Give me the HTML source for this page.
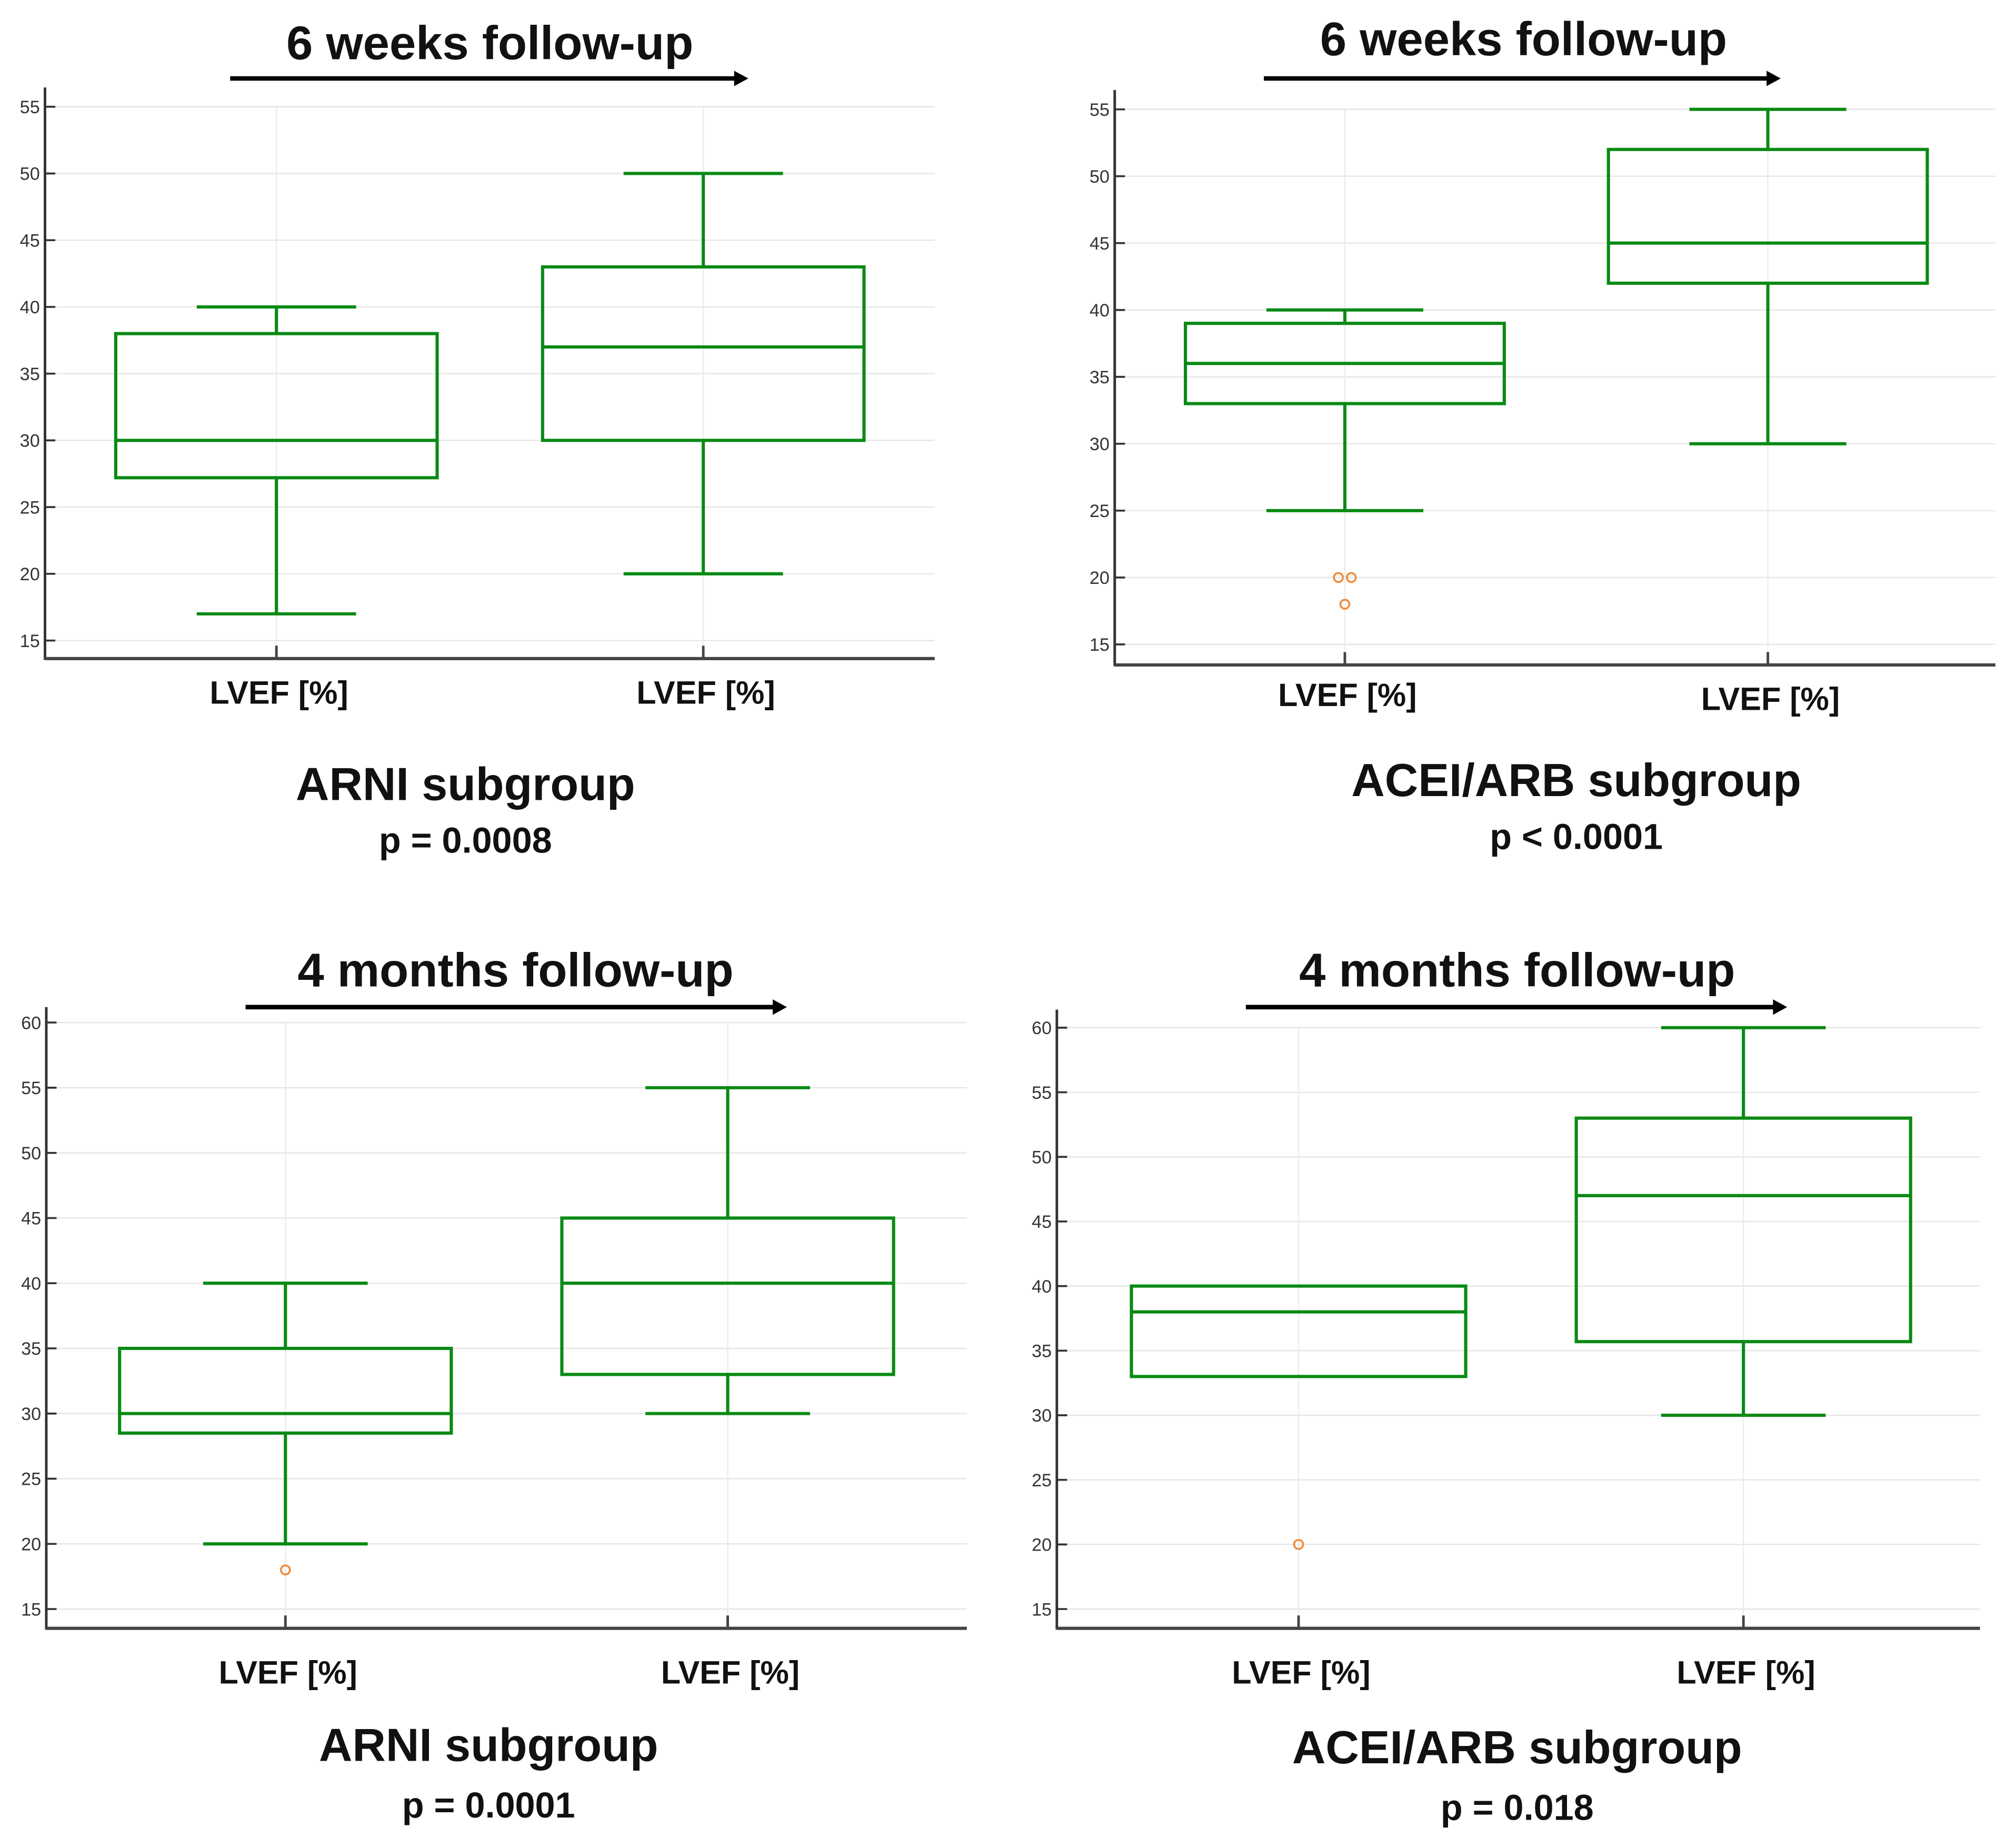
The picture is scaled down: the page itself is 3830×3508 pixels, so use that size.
<!DOCTYPE html>
<html><head><meta charset="utf-8"><style>
html,body{margin:0;padding:0;background:#fff;}
svg{display:block;}
text{font-family:"Liberation Sans",sans-serif;}
</style></head><body>
<svg id="fig" width="3830" height="3508" viewBox="0 0 1568 1436" preserveAspectRatio="none" xmlns="http://www.w3.org/2000/svg"></svg>
<script>
// Panel data: [whiskerLow, q1, median, q3, whiskerHigh]
const tlBoxes = [[17, 27.2, 30, 38, 40], [20, 30, 37, 43, 50]];
const trBoxes = [[25, 33, 36, 39, 40], [30, 42, 45, 52, 55]];
const blBoxes = [[20, 28.5, 30, 35, 40], [30, 33, 40, 45, 55]];
const brBoxes = [[33, 33, 38, 40, 40], [30, 35.7, 47, 53, 60]];
const tlOutliers = [];
const trOutliers = [[0, 20, -5], [0, 20, 5], [0, 18, 0]];
const blOutliers = [[0, 18, 0]];
const brOutliers = [[0, 20, 0]];
const ticks6w = [15, 20, 25, 30, 35, 40, 45, 50, 55];
const ticks4m = [15, 20, 25, 30, 35, 40, 45, 50, 55, 60];
const categories = ["LVEF [%]", "LVEF [%]"];

const NS = "http://www.w3.org/2000/svg";
const svg = document.getElementById('fig');
function mk(tag, attrs, parent) {
  const e = document.createElementNS(NS, tag);
  for (const k in attrs) e.setAttribute(k, attrs[k]);
  (parent || svg).appendChild(e);
  return e;
}
const GREEN = "#0a8a14";

function panel(cfg) {
  const g = mk('g', {});
  
  
  const y = v => cfg.yTop + (cfg.vTop - v) / (cfg.vTop - cfg.vBot) * (cfg.yBot - cfg.yTop);
  cfg.ticks.forEach(t => {
    const l = mk('line', {x1: cfg.x0 + 2, x2: cfg.x1, y1: y(t), y2: y(t), stroke: "#e6e6e6", "stroke-width": 1}, g);
    
    
    const tk = mk('line', {x1: cfg.x0, x2: cfg.x0 + 8, y1: y(t), y2: y(t), stroke: "#333", "stroke-width": 1.5}, g);
    
    
    const tx = mk('text', {x: cfg.x0 - 4, y: y(t) + 5, "font-size": 14, "text-anchor": "end", fill: "#333"}, g);
    tx.textContent = t;
    
    
  });
  cfg.cats.forEach(cx => {
    const l = mk('line', {x1: cx, x2: cx, y1: cfg.yTop, y2: cfg.axisY, stroke: "#ececec", "stroke-width": 1}, g);
    
    
    const tk = mk('line', {x1: cx, x2: cx, y1: cfg.axisY - 10, y2: cfg.axisY, stroke: "#444", "stroke-width": 2}, g);
    
    
  });
  const ya = mk('line', {x1: cfg.x0, x2: cfg.x0, y1: cfg.axisTop, y2: cfg.axisY + 1, stroke: "#333", "stroke-width": 2}, g);
  
  
  const xa = mk('line', {x1: cfg.x0, x2: cfg.x1, y1: cfg.axisY, y2: cfg.axisY, stroke: "#444", "stroke-width": 2.5}, g);
  
  
  cfg.boxes.forEach((b, i) => {
    const cx = cfg.cats[i], hw = cfg.boxHalf, cw = cfg.capHalf;
    const bg = mk('g', {stroke: GREEN, "stroke-width": 2.5, fill: "none"}, g);
    
    
    if (b[0] < b[1]) {
      mk('line', {x1: cx, x2: cx, y1: y(b[0]), y2: y(b[1])}, bg);
      mk('line', {x1: cx - cw, x2: cx + cw, y1: y(b[0]), y2: y(b[0])}, bg);
    }
    if (b[4] > b[3]) {
      mk('line', {x1: cx, x2: cx, y1: y(b[4]), y2: y(b[3])}, bg);
      mk('line', {x1: cx - cw, x2: cx + cw, y1: y(b[4]), y2: y(b[4])}, bg);
    }
    mk('rect', {x: cx - hw, y: y(b[3]), width: 2 * hw, height: y(b[1]) - y(b[3])}, bg);
    mk('line', {x1: cx - hw, x2: cx + hw, y1: y(b[2]), y2: y(b[2])}, bg);
  });
  cfg.outliers.forEach(o => {
    const c = mk('circle', {cx: cfg.cats[o[0]] + o[2], cy: y(o[1]), r: 3.5, fill: "none", stroke: "#f08c3c", "stroke-width": 1.5}, g);
    
    
  });
  cfg.cats.forEach((cx, i) => {
    const t = mk('text', {x: cx + 2, y: cfg.labelY[i] + 9, "font-size": 25, "font-weight": "bold", "text-anchor": "middle", fill: "#111"}, g);
    t.textContent = categories[i];
    
    
  });
  const tt = mk('text', {x: cfg.titleX, y: cfg.titleY + 13, "font-size": 37, "font-weight": "bold", "text-anchor": "middle", fill: "#111"}, g);
  tt.textContent = cfg.title;
  
  
  const ar = mk('line', {x1: cfg.arrow[0], x2: cfg.arrow[1] - 8, y1: cfg.arrow[2], y2: cfg.arrow[2], stroke: "#000", "stroke-width": 3.5}, g);
  
  
  const ah = mk('polygon', {points: `${cfg.arrow[1]},${cfg.arrow[2]} ${cfg.arrow[1]-11},${cfg.arrow[2]-6} ${cfg.arrow[1]-11},${cfg.arrow[2]+6}`, fill: "#000"}, g);
  
  
  const sg = mk('text', {x: cfg.subX, y: cfg.subY + 13, "font-size": 36, "font-weight": "bold", "text-anchor": "middle", fill: "#111"}, g);
  sg.textContent = cfg.sub;
  
  
  const pv = mk('text', {x: cfg.subX, y: cfg.pY + 10, "font-size": 28, "font-weight": "bold", "text-anchor": "middle", fill: "#111"}, g);
  pv.textContent = cfg.p;
  
  
}

panel({name: 'panel-arni-6w', x0: 35, x1: 727, axisTop: 68, axisY: 512, yTop: 83, yBot: 498, vTop: 55, vBot: 15,
  ticks: ticks6w, cats: [215, 547], boxHalf: 125, capHalf: 62, boxes: tlBoxes, outliers: tlOutliers,
  labelY: [538, 538], title: "6 weeks follow-up", titleX: 381, titleY: 33, arrow: [179, 582, 61],
  sub: "ARNI subgroup", subX: 362, subY: 609, p: "p = 0.0008", pY: 653});
panel({name: 'panel-acei-6w', x0: 867, x1: 1552, axisTop: 70, axisY: 517, yTop: 85, yBot: 501, vTop: 55, vBot: 15,
  ticks: ticks6w, cats: [1046, 1375], boxHalf: 124, capHalf: 61, boxes: trBoxes, outliers: trOutliers,
  labelY: [540, 543], title: "6 weeks follow-up", titleX: 1185, titleY: 30, arrow: [983, 1385, 61],
  sub: "ACEI/ARB subgroup", subX: 1226, subY: 606, p: "p < 0.0001", pY: 650});
panel({name: 'panel-arni-4m', x0: 36, x1: 752, axisTop: 783, axisY: 1266, yTop: 795, yBot: 1251, vTop: 60, vBot: 15,
  ticks: ticks4m, cats: [222, 566], boxHalf: 129, capHalf: 64, boxes: blBoxes, outliers: blOutliers,
  labelY: [1300, 1300], title: "4 months follow-up", titleX: 401, titleY: 754, arrow: [191, 612, 783],
  sub: "ARNI subgroup", subX: 380, subY: 1356, p: "p = 0.0001", pY: 1403});
panel({name: 'panel-acei-4m', x0: 822, x1: 1540, axisTop: 785, axisY: 1266, yTop: 799, yBot: 1251, vTop: 60, vBot: 15,
  ticks: ticks4m, cats: [1010, 1356], boxHalf: 130, capHalf: 64, boxes: brBoxes, outliers: brOutliers,
  labelY: [1300, 1300], title: "4 months follow-up", titleX: 1180, titleY: 754, arrow: [969, 1390, 783],
  sub: "ACEI/ARB subgroup", subX: 1180, subY: 1358, p: "p = 0.018", pY: 1405});
</script>
</body></html>
